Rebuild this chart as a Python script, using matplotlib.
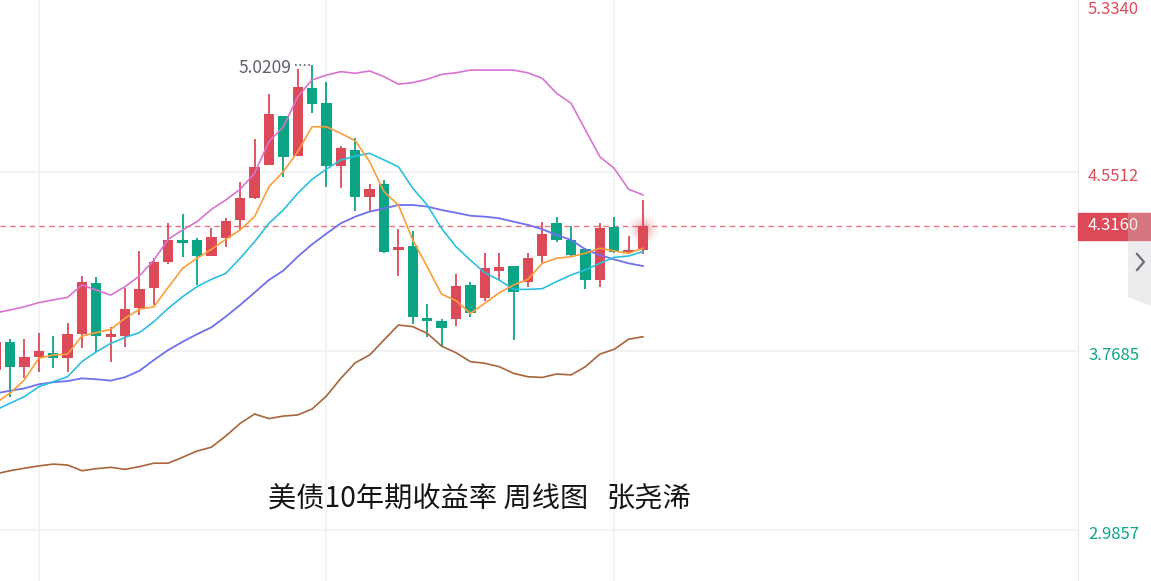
import matplotlib
matplotlib.use('Agg')
import matplotlib.pyplot as plt
from matplotlib.patches import Rectangle, Polygon
from matplotlib.lines import Line2D

plt.rcParams['font.family'] = ['Noto Sans CJK SC', 'DejaVu Sans']

# weekly candles, oldest first (index 0 is cut by the left edge)
opens = [3.685, 3.809, 3.700, 3.743, 3.761, 3.737, 3.841, 4.064, 3.828, 3.834,
         3.955, 4.045, 4.156, 4.254, 4.254, 4.184, 4.261, 4.341, 4.436, 4.582,
         4.797, 4.621, 4.917, 4.852, 4.577, 4.647, 4.441, 4.497, 4.210, 4.228,
         3.914, 3.901, 3.907, 4.057, 3.999, 4.118, 4.141, 4.071, 4.184, 4.327,
         4.254, 4.213, 4.079, 4.312, 4.200, 4.210]
highs = [3.830, 3.820, 3.820, 3.846, 3.834, 3.892, 4.096, 4.091, 3.875, 4.043,
         4.207, 4.174, 4.327, 4.366, 4.261, 4.305, 4.349, 4.509, 4.694, 4.891,
         4.797, 5.000, 5.0209, 4.943, 4.666, 4.699, 4.497, 4.516, 4.301, 4.293,
         3.973, 3.907, 4.104, 4.071, 4.198, 4.198, 4.141, 4.196, 4.331, 4.353,
         4.316, 4.218, 4.327, 4.353, 4.273, 4.429]
lows = [3.660, 3.569, 3.649, 3.678, 3.693, 3.678, 3.780, 3.765, 3.722, 3.787,
        3.926, 3.970, 4.149, 4.178, 4.057, 4.184, 4.222, 4.298, 4.432, 4.582,
        4.531, 4.621, 4.808, 4.487, 4.480, 4.382, 4.375, 4.196, 4.098, 3.887,
        3.828, 3.787, 3.879, 3.916, 3.987, 4.079, 3.817, 4.050, 4.152, 4.246,
        4.178, 4.038, 4.050, 4.196, 4.196, 4.193]
closes = [3.809, 3.700, 3.743, 3.768, 3.737, 3.841, 4.071, 3.834, 3.841, 3.951,
          4.038, 4.156, 4.254, 4.242, 4.184, 4.266, 4.338, 4.439, 4.574, 4.805,
          4.615, 4.924, 4.847, 4.577, 4.655, 4.441, 4.477, 4.203, 4.225, 3.916,
          3.901, 3.870, 4.053, 3.936, 4.130, 4.134, 4.025, 4.174, 4.280, 4.254,
          4.188, 4.079, 4.305, 4.203, 4.210, 4.316]

ma5 = [3.540, 3.584, 3.642, 3.737, 3.751, 3.755, 3.834, 3.849, 3.863, 3.912,
       3.951, 3.962, 4.047, 4.130, 4.174, 4.213, 4.257, 4.298, 4.356, 4.487,
       4.553, 4.640, 4.749, 4.749, 4.720, 4.688, 4.596, 4.465, 4.407, 4.254,
       4.137, 4.017, 3.989, 3.933, 3.977, 4.023, 4.057, 4.082, 4.152, 4.174,
       4.181, 4.196, 4.218, 4.206, 4.196, 4.218]
ma10 = [3.510, 3.540, 3.569, 3.612, 3.634, 3.656, 3.722, 3.765, 3.802, 3.828,
        3.849, 3.897, 3.955, 4.006, 4.050, 4.082, 4.108, 4.174, 4.246, 4.327,
        4.385, 4.458, 4.519, 4.564, 4.604, 4.621, 4.633, 4.604, 4.574, 4.480,
        4.407, 4.305, 4.225, 4.166, 4.111, 4.079, 4.038, 4.038, 4.041, 4.072,
        4.101, 4.123, 4.152, 4.178, 4.184, 4.203]
ma20 = [3.583, 3.595, 3.605, 3.623, 3.632, 3.637, 3.649, 3.645, 3.639, 3.654,
        3.682, 3.729, 3.773, 3.809, 3.842, 3.872, 3.919, 3.970, 4.024, 4.079,
        4.120, 4.181, 4.235, 4.282, 4.327, 4.356, 4.378, 4.392, 4.407, 4.407,
        4.400, 4.385, 4.373, 4.360, 4.356, 4.349, 4.334, 4.320, 4.301, 4.276,
        4.254, 4.213, 4.188, 4.169, 4.152, 4.140]
boll_up = [3.935, 3.948, 3.962, 3.980, 3.992, 4.003, 4.057, 4.035, 4.013, 4.050,
           4.097, 4.166, 4.257, 4.298, 4.334, 4.388, 4.429, 4.476, 4.546, 4.684,
           4.749, 4.880, 4.954, 4.975, 4.990, 4.983, 4.993, 4.968, 4.935, 4.942,
           4.957, 4.978, 4.985, 4.997, 4.997, 4.997, 4.997, 4.985, 4.961, 4.895,
           4.852, 4.735, 4.618, 4.567, 4.476, 4.451]
boll_dn = [3.231, 3.245, 3.256, 3.266, 3.274, 3.270, 3.245, 3.254, 3.260, 3.251,
           3.263, 3.278, 3.278, 3.304, 3.331, 3.348, 3.397, 3.452, 3.493, 3.473,
           3.484, 3.489, 3.515, 3.572, 3.649, 3.717, 3.751, 3.817, 3.882, 3.875,
           3.846, 3.790, 3.761, 3.722, 3.715, 3.700, 3.671, 3.656, 3.653, 3.668,
           3.664, 3.700, 3.755, 3.776, 3.820, 3.831]

price_ticks = [2.9857, 3.7685, 4.5512, 5.3340]
last_price = 4.3160
max_price = 5.0209
max_idx = 22
grid_idx = [3, 23, 43]
title_parts = ['美债10年期收益率 周线图', '张尧浠']

RED = '#dc4a58'
GREEN = '#0ba586'
W, H = 1151, 581


def main():
    fig = plt.figure(figsize=(W / 100, H / 100), dpi=100)
    ax = fig.add_axes([0, 0, 1078 / W, 1])
    ax.set_xlim(0.305, 75.24)
    ax.set_ylim(2.7629, 5.3033)
    for s in ['top', 'left', 'bottom']:
        ax.spines[s].set_visible(False)
    ax.spines['right'].set_color('#ececf0')
    ax.set_xticks([])
    ax.set_yticks([])

    for p in price_ticks:
        ax.axhline(p, color='#f1f1f4', lw=1.2, zorder=0)
    for g in grid_idx:
        ax.axvline(g, color='#f1f1f4', lw=1.2, zorder=0)

    idx = list(range(len(opens)))
    for i in idx:
        c = RED if closes[i] >= opens[i] else GREEN
        ax.vlines(i, lows[i], highs[i], color=c, lw=1.3, zorder=2)
        h = max(abs(closes[i] - opens[i]), 0.007)
        ax.bar(i, h, bottom=min(opens[i], closes[i]), width=0.72, color=c, zorder=3)

    ax.plot(idx, boll_up, color='#d873d2', lw=1.2, zorder=4)
    ax.plot(idx, boll_dn, color='#a8643a', lw=1.2, zorder=4)
    ax.plot(idx, ma20, color='#6e70ee', lw=1.3, zorder=4)
    ax.plot(idx, ma10, color='#2bbfe0', lw=1.2, zorder=4)
    ax.plot(idx, ma5, color='#fb9d3a', lw=1.2, zorder=4)

    # last price line and glow
    ax.axhline(last_price, color='#ea7580', lw=1, ls=(0, (4, 3)), zorder=1)
    last = idx[-1]
    for s, a in [(500, 0.05), (300, 0.08), (160, 0.12), (70, 0.2)]:
        ax.scatter(last, last_price - 0.015, s=s, color=RED, alpha=a, lw=0, zorder=5)

    # max marker
    ax.plot([max_idx - 1.2, max_idx], [max_price, max_price], ls=':', color='#5c606c', lw=1.2)
    ax.annotate(f'{max_price:.4f}', xy=(max_idx - 1.3, max_price), xytext=(-2, -3),
                textcoords='offset pixels', ha='right', va='center', fontsize=12.5,
                color='#5c606c')

    # right price labels
    top = ax.get_ylim()[1]
    for p in price_ticks:
        col = RED if p > last_price else GREEN
        y = min(p, top - 0.022)
        ax.annotate(f'{p:.4f}', xy=(1, y), xycoords=('axes fraction', 'data'),
                    xytext=(10, -4), textcoords='offset pixels', ha='left', va='center',
                    fontsize=12, color=col, annotation_clip=False)

    # current price tag
    fig.patches.append(Rectangle((1078 / W, (H - 239.5) / H), 73 / W, 26.5 / H,
                                 transform=fig.transFigure, color=RED, zorder=5))
    fig.text(1088 / W, (H - 226) / H, f'{last_price:.4f}', color='white', fontsize=12,
             ha='left', va='center', zorder=6)
    pts = [(1128, 213), (1151, 213), (1151, 306), (1128, 297)]
    fig.patches.append(Polygon([(x / W, (H - y) / H) for x, y in pts], closed=True,
                               transform=fig.transFigure, color=(0.79, 0.79, 0.81),
                               alpha=0.35, lw=0, zorder=7))
    chev = [(1137, 254), (1144, 262), (1137, 270)]
    fig.lines.append(Line2D([x / W for x, y in chev], [(H - y) / H for x, y in chev],
                            transform=fig.transFigure, color='#6b6f7c', lw=1.6, zorder=8))

    # title, author name set a little apart as in the original
    fig.text(268 / W, (H - 508) / H, title_parts[0], fontsize=20.3, color='#151515',
             ha='left', va='baseline')
    fig.text(607 / W, (H - 508) / H, title_parts[1], fontsize=20.3, color='#151515',
             ha='left', va='baseline')

    fig.savefig('out.png', dpi=100)


if __name__ == '__main__':
    main()
